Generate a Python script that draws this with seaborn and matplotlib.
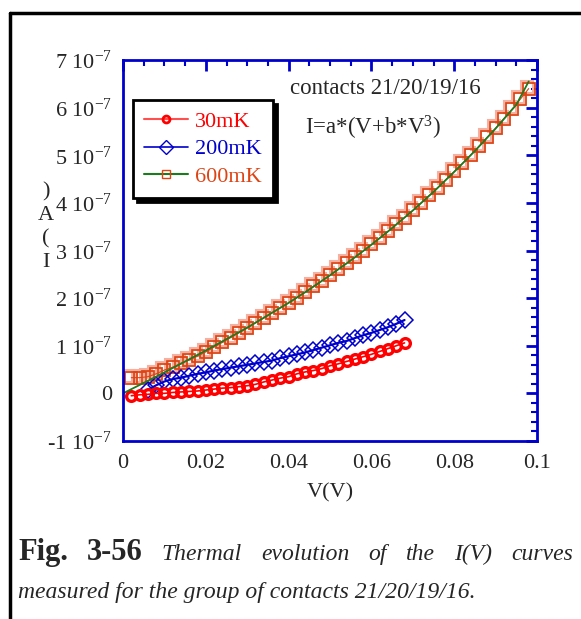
import matplotlib
matplotlib.use("Agg")
import matplotlib.pyplot as plt
from matplotlib.lines import Line2D
from matplotlib.ticker import MultipleLocator, FuncFormatter
from matplotlib.transforms import offset_copy
import pandas as pd
import seaborn as sns

# ── data (current in units of 1e-7 A, voltage in V) ──────────────────────────
v_30mk = [0.002, 0.004, 0.006, 0.008, 0.010, 0.012, 0.014, 0.016, 0.018, 0.020,
          0.022, 0.024, 0.026, 0.028, 0.030, 0.032, 0.034, 0.036, 0.038, 0.040,
          0.042, 0.044, 0.046, 0.048, 0.050, 0.052, 0.054, 0.056, 0.058, 0.060,
          0.062, 0.064, 0.066, 0.068]
i_30mk = [-0.05, -0.03, -0.02, 0.00, 0.00, 0.02, 0.03, 0.04, 0.05, 0.07,
          0.09, 0.11, 0.12, 0.14, 0.16, 0.19, 0.24, 0.28, 0.32, 0.35,
          0.41, 0.45, 0.48, 0.52, 0.58, 0.62, 0.67, 0.72, 0.77, 0.82,
          0.88, 0.94, 1.00, 1.06]

v_200mk = [0.006, 0.008, 0.010, 0.012, 0.014, 0.016, 0.018, 0.020, 0.022, 0.024,
           0.026, 0.028, 0.030, 0.032, 0.034, 0.036, 0.038, 0.040, 0.042, 0.044,
           0.046, 0.048, 0.050, 0.052, 0.054, 0.056, 0.058, 0.060, 0.062, 0.064,
           0.066, 0.068]
i_200mk = [0.07, 0.17, 0.25, 0.30, 0.33, 0.37, 0.41, 0.44, 0.48, 0.51,
           0.54, 0.57, 0.60, 0.63, 0.66, 0.69, 0.74, 0.78, 0.82, 0.86,
           0.91, 0.96, 1.01, 1.06, 1.10, 1.16, 1.22, 1.27, 1.33, 1.39,
           1.46, 1.54]

v_600mk = [0.002, 0.004, 0.006, 0.008, 0.010, 0.012, 0.014, 0.016, 0.018, 0.020,
           0.022, 0.024, 0.026, 0.028, 0.030, 0.032, 0.034, 0.036, 0.038, 0.040,
           0.042, 0.044, 0.046, 0.048, 0.050, 0.052, 0.054, 0.056, 0.058, 0.060,
           0.062, 0.064, 0.066, 0.068, 0.070, 0.072, 0.074, 0.076, 0.078, 0.080,
           0.082, 0.084, 0.086, 0.088, 0.090, 0.092, 0.094, 0.096, 0.098]
i_600mk = [0.33, 0.33, 0.35, 0.41, 0.49, 0.55, 0.63, 0.70, 0.78, 0.87,
           0.97, 1.07, 1.17, 1.27, 1.37, 1.48, 1.58, 1.69, 1.80, 1.90,
           2.01, 2.13, 2.25, 2.36, 2.48, 2.61, 2.73, 2.86, 2.99, 3.13,
           3.26, 3.40, 3.55, 3.69, 3.84, 4.00, 4.16, 4.32, 4.49, 4.66,
           4.83, 5.01, 5.19, 5.38, 5.57, 5.77, 5.97, 6.18, 6.40]

# fit curve I=a*(V+b*V^3)
v_fit = [0.000, 0.005, 0.010, 0.015, 0.020, 0.025, 0.030, 0.035, 0.040, 0.045,
         0.050, 0.055, 0.060, 0.065, 0.070, 0.075, 0.080, 0.085, 0.090, 0.095,
         0.098]
i_fit = [0.00, 0.22, 0.44, 0.67, 0.90, 1.14, 1.38, 1.64, 1.90, 2.18,
         2.48, 2.79, 3.12, 3.47, 3.84, 4.23, 4.65, 5.09, 5.56, 6.06,
         6.55]

labels = ["30mK", "200mK", "600mK"]
y_ticks = [-1, 0, 1, 2, 3, 4, 5, 6, 7]
SCALE = 1e-7

BLUE = "#0000CC"
RED = "#FF0000"
ORANGE = "#DD4414"
GREEN = "#1E7A1E"

sns.set_style("white")
plt.rcParams["font.family"] = ["Liberation Serif", "DejaVu Serif"]
plt.rcParams["mathtext.fontset"] = "custom"
plt.rcParams["mathtext.rm"] = "Liberation Serif"
plt.rcParams["mathtext.it"] = "Liberation Serif:italic"

W, H = 581, 619
fig = plt.figure(figsize=(W / 100, H / 100), dpi=100)
ax = fig.add_axes([123 / W, 1 - 441 / H, (537 - 123) / W, (441 - 60) / H])


def frame(n, v, i):
    return pd.DataFrame({"V": v, "I": [x * SCALE for x in i], "set": n})


d30 = frame(labels[0], v_30mk, i_30mk)
d200 = frame(labels[1], v_200mk, i_200mk)
d600 = frame(labels[2], v_600mk, i_600mk)
dfit = frame("fit", v_fit, i_fit)

# 600 mK: pale shifted copy behind the squares (as in the scan)
shadow = offset_copy(ax.transData, fig=fig, x=-2, y=2, units="dots")
ax.plot(d600["V"], d600["I"], ls="none", marker="s", ms=8.5, mfc="none",
        mec="#F4B0A0", mew=1.5, transform=shadow)
sns.lineplot(data=d600, x="V", y="I", ax=ax, sort=False, estimator=None,
             color=ORANGE, lw=0.8, marker="s", ms=8.5, mfc="none",
             mec=ORANGE, mew=1.3)
sns.lineplot(data=d200, x="V", y="I", ax=ax, sort=False, estimator=None,
             color=BLUE, lw=1.6, marker="D", ms=8.3, mfc="none",
             mec=BLUE, mew=1.1)
sns.lineplot(data=d30, x="V", y="I", ax=ax, sort=False, estimator=None,
             color=RED, lw=1.2, marker="o", ms=7, mfc="none",
             mec=RED, mew=2.4)
sns.lineplot(data=dfit, x="V", y="I", ax=ax, sort=False, estimator=None,
             color=GREEN, lw=1.3)

ax.set_xlim(0, 0.1)
ax.set_ylim(-1 * SCALE, 7 * SCALE)
ax.xaxis.set_major_locator(MultipleLocator(0.02))
ax.xaxis.set_minor_locator(MultipleLocator(0.005))
ax.set_yticks([k * SCALE for k in y_ticks])
ax.yaxis.set_minor_locator(MultipleLocator(0.2 * SCALE))
ax.xaxis.set_major_formatter(FuncFormatter(lambda v, p: "0" if abs(v) < 1e-9 else f"{v:g}"))
ax.yaxis.set_major_formatter(FuncFormatter(
    lambda v, p: "0" if abs(v) < 1e-12 else f"{round(v / SCALE)} 10$^{{-7}}$"))

for s in ax.spines.values():
    s.set_color(BLUE)
    s.set_linewidth(2)
ax.tick_params(which="both", direction="in", top=True, right=True,
               color=BLUE, labelsize=16)
ax.tick_params(which="major", length=8, width=2)
ax.tick_params(which="minor", length=4, width=1.5)
ax.tick_params(axis="x", pad=9)
ax.tick_params(axis="y", pad=8)

ax.set_xlabel("V(V)", fontsize=16, labelpad=8)
ax.set_ylabel("")

ax.text(0.0403, 6.41 * SCALE, "contacts 21/20/19/16", fontsize=16.5, va="center")
ax.text(0.044, 5.57 * SCALE, "I=a*(V+b*V$^{3}$)", fontsize=16.5, va="center")

handles = [
    Line2D([], [], color="#FF5050", lw=1.5, marker="o", ms=5, mfc="none", mec=RED, mew=2),
    Line2D([], [], color=BLUE, lw=1.2, marker="D", ms=7, mfc="none", mec=BLUE, mew=1),
    Line2D([], [], color=GREEN, lw=1.5, marker="s", ms=6, mfc="none", mec=ORANGE, mew=1),
]
leg = ax.legend(handles, labels, loc="upper left", bbox_to_anchor=(0.024, 0.895),
                borderaxespad=0, fontsize=16, frameon=True, fancybox=False,
                borderpad=0.5, handlelength=2.0, handletextpad=0.3,
                labelspacing=0.32,
                shadow={"color": "black", "alpha": 1, "ox": 3, "oy": -3})
leg.get_frame().set_edgecolor("black")
leg.get_frame().set_linewidth(2)
for t, c in zip(leg.get_texts(), [RED, BLUE, ORANGE]):
    t.set_color(c)

# stacked y-label as printed in the figure
fig.text(46 / W, 1 - 227 / H, ")\nA\n(\nI", fontsize=16, ha="center",
         va="center", linespacing=1.3)

# page frame
fig.add_artist(Line2D([10 / W, 1], [1 - 13 / H] * 2, transform=fig.transFigure,
                      color="black", lw=2.5))
fig.add_artist(Line2D([10 / W] * 2, [1 - 13 / H, 0], transform=fig.transFigure,
                      color="black", lw=2.5))

# caption, first line justified
bold = dict(fontsize=22, fontweight="bold")
ital = dict(fontsize=17, style="italic")
words = [("Fig.", bold), ("3-56", bold), ("Thermal", ital), ("evolution", ital),
         ("of", ital), ("the", ital), ("I(V)", ital), ("curves", ital)]
r = fig.canvas.get_renderer()
texts = [fig.text(0, 1 - 560 / H, w, va="baseline", **kw) for w, kw in words]
widths = [t.get_window_extent(r).width for t in texts]
gap = ((573 - 18) - sum(widths)) / (len(texts) - 1)
x = 18
for t, w in zip(texts, widths):
    t.set_x(x / W)
    x += w + gap
fig.text(18 / W, 1 - 598 / H, "measured for the group of contacts 21/20/19/16.",
         va="baseline", **ital)

fig.savefig("out.png", dpi=100)
